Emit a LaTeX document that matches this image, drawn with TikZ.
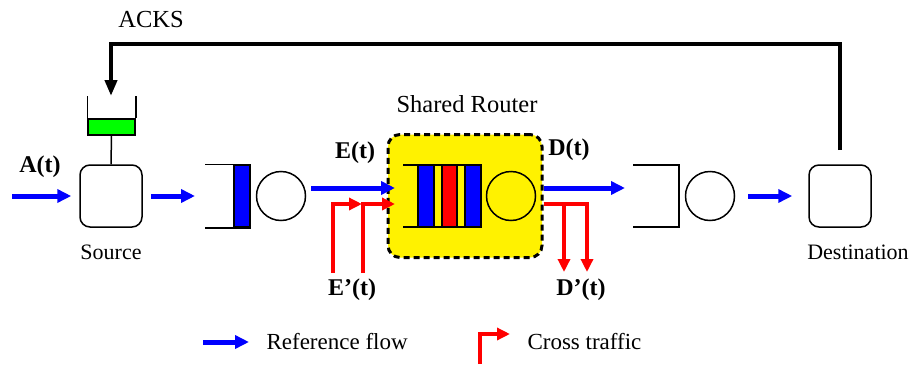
\documentclass[tikz,border=0pt]{standalone}
\usepackage{fontspec}
\setmainfont{Liberation Serif}
\usetikzlibrary{arrows.meta,positioning}

\tikzset{
  flow/.style={blue, line width=5pt, -{Triangle[length=14pt,width=13pt]}},
  cross/.style={red, line width=4pt, -{Triangle[length=13pt,width=12pt]}},
  ack/.style={line width=4.5pt, -{Triangle[length=16pt,width=12pt]}},
  endpt/.style={draw, line width=1.5pt, rounded corners=10pt, minimum size=62pt, inner sep=0pt},
  server/.style={draw, circle, line width=1.5pt, minimum size=49pt, inner sep=0pt},
  thin/.style={line width=1.5pt},
  lbl/.style={font=\fontsize{22}{26}\selectfont},
  leglbl/.style={font=\fontsize{23}{27}\selectfont},
  biglbl/.style={font=\fontsize{24.5}{29}\selectfont},
  blbl/.style={font=\fontsize{24}{28}\selectfont\bfseries},
}

\begin{document}
\begin{tikzpicture}[x=1pt,y=-1pt]
\useasboundingbox (0,0) rectangle (909,364);

% end points
\node[endpt] (src) at (111,196) {};
\node[endpt] (dst) at (840,196) {};
\node[lbl] (srclbl) at (111,252) {Source};
\node[lbl] (dstlbl) at (858,252) {Destination};

% ack buffer on top of the source
\node[draw, thin, fill=green, minimum width=47pt, minimum height=16pt, inner sep=0pt] (ackbuf) at (111.5,127) {};
\draw[thin] (ackbuf.north west) -- ++(0,-22);
\draw[thin] (ackbuf.north east) -- ++(0,-22);
\draw[thin] (ackbuf.south) -- (src.north);

% first queue
\node[draw, thin, fill=blue, minimum width=16pt, minimum height=62pt, inner sep=0pt] (q1) at (242,196) {};
\draw[thin] (q1.north east) -- ++(-46,0);
\draw[thin] (q1.south east) -- ++(-46,0);
\node[server] (s1) at (281,196) {};

% shared router
\node[biglbl] (rtrlbl) at (467,104) {Shared Router};
\node[draw, fill=yellow, line width=3pt, dash pattern=on 6pt off 4pt, rounded corners=12pt,
      minimum width=154pt, minimum height=123pt] (rtr) at (465,196) {};
\foreach \xa/\xb/\c in {418/434/blue,434/442/yellow,442/457/red,457/465/yellow,465/481/blue}
  \draw[thin, fill=\c] (\xa,165) rectangle (\xb,227);
\draw[thin] (403,165) -- (481,165);
\draw[thin] (403,227) -- (481,227);
\node[server] (s2) at (511,196) {};

% second queue
\draw[thin] (633,165) -- (679,165) -- (679,227) -- (633,227);
\node[server] (s3) at (710,196) {};

% reference flow
\coordinate (ain) at (12,196);
\coordinate (ein) at (311,188);
\coordinate (eend) at (395,188);
\coordinate (dend) at (625,188);
\draw[flow] (ain) -- ([xshift=-8pt]src.west);
\draw[flow] ([xshift=8pt]src.east) -- (195,196);
\draw[flow] (ein) -- (eend);
\draw[flow] (rtr.east |- dend) -- (dend);
\draw[flow] ([xshift=13pt]s3.east) -- ([xshift=-16pt]dst.west);

\node[blbl] (alb) at (40,167) {A(t)};
\node[blbl] (elb) at (355,153) {E(t)};
\node[blbl] (dlb) at (569,150) {D(t)};

% cross traffic
\coordinate (e1) at (333,273);
\coordinate (e2) at (363,273);
\draw[cross] (e1) |- (362,204);
\draw[cross] (e2) |- (395,204);
\draw[red, line width=4pt] (rtr.east |- 0,204) -- (564,204);
\draw[cross] (rtr.east |- 0,204) -| (587,272);
\draw[cross] (564,204) -- (564,272);
\node[blbl] (eplb) at (352,290) {E'(t)};
\node[blbl] (dplb) at (581,290) {D'(t)};

% acks
\coordinate (ackfrom) at (840,150);
\draw[ack] (ackfrom) |- (111,44) -- (111,96);
\node[biglbl] (acklbl) at (151,20) {ACKS};

% legend
\coordinate (lg1) at (203,342);
\coordinate (lg2) at (480,364);
\draw[flow] (lg1) -- (249,342);
\node[leglbl, anchor=west] (reflbl) at (263,342) {Reference flow};
\draw[cross] (lg2) |- (510,334);
\node[leglbl, anchor=west] (crslbl) at (524,342) {Cross traffic};
\end{tikzpicture}
\end{document}
